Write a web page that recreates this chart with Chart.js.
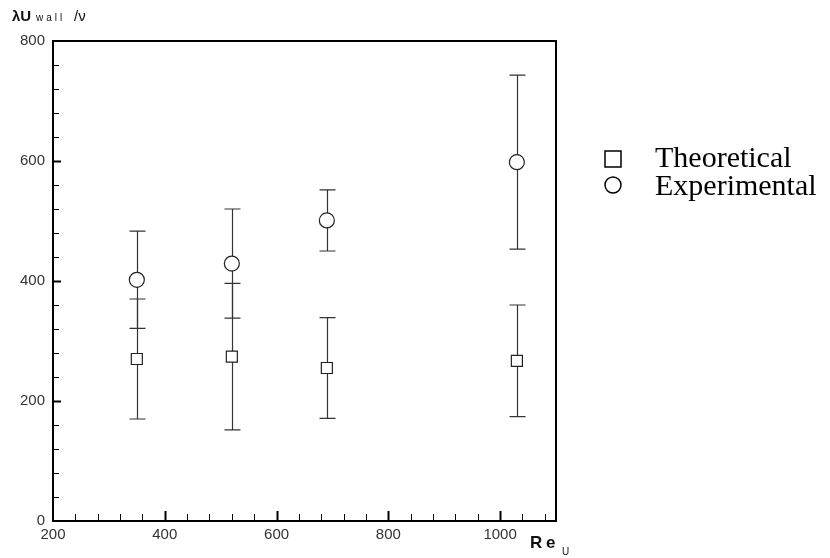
<!DOCTYPE html>
<html>
<head>
<meta charset="utf-8">
<script src="https://cdn.jsdelivr.net/npm/chart.js@4.4.1/dist/chart.umd.min.js"></script>
<style>
  html, body { margin: 0; padding: 0; background: #fff; }
  #wrap { width: 830px; height: 558px; }
</style>
</head>
<body>
<div id="wrap"><canvas id="chart" width="830" height="558"></canvas></div>
<script>
const reynolds = [350, 520, 690, 1030];

const theoretical = [270, 274, 255, 267];
const theoErr = [100, 122, 84, 93];

const experimental = [402, 429, 501, 598];
const expErr = [81, 91, 51, 145];

const seriesNames = ["Theoretical", "Experimental"];
const errors = [theoErr, expErr];

const INK = "#222";

// vertical error bar with caps, under the markers
const errorBars = {
  id: "errorBars",
  beforeDatasetsDraw(chart) {
    const { ctx, scales: { x, y } } = chart;
    ctx.save();
    ctx.strokeStyle = "#333";
    ctx.lineWidth = 1.2;
    chart.data.datasets.forEach((ds, i) => {
      ds.data.forEach((p, j) => {
        const px = Math.round(x.getPixelForValue(p.x)) + 0.5;
        const top = y.getPixelForValue(p.y + errors[i][j]);
        const bot = y.getPixelForValue(p.y - errors[i][j]);
        ctx.beginPath();
        ctx.moveTo(px, top);
        ctx.lineTo(px, bot);
        ctx.moveTo(px - 8, top);
        ctx.lineTo(px + 8, top);
        ctx.moveTo(px - 8, bot);
        ctx.lineTo(px + 8, bot);
        ctx.stroke();
      });
    });
    ctx.restore();
  }
};

// box frame, inward tick marks, axis titles and legend
const decorations = {
  id: "decorations",
  afterDraw(chart) {
    const { ctx, chartArea: a, scales: { x, y } } = chart;
    ctx.save();

    ctx.strokeStyle = "#000";
    ctx.lineWidth = 2;
    ctx.strokeRect(a.left, a.top, a.right - a.left, a.bottom - a.top);

    for (let v = 240; v <= 1080; v += 40) {
      const major = v % 200 === 0;
      const px = Math.round(x.getPixelForValue(v)) + 0.5;
      ctx.lineWidth = major ? 2 : 1;
      ctx.beginPath();
      ctx.moveTo(px, a.bottom);
      ctx.lineTo(px, a.bottom - (major ? 10 : 7));
      ctx.stroke();
    }
    for (let v = 40; v < 800; v += 40) {
      const major = v % 200 === 0;
      const py = Math.round(y.getPixelForValue(v)) + 0.5;
      ctx.lineWidth = major ? 2 : 1;
      ctx.beginPath();
      ctx.moveTo(a.left, py);
      ctx.lineTo(a.left + (major ? 8 : 6), py);
      ctx.stroke();
    }

    // y title: λU wall / ν
    ctx.fillStyle = "#111";
    ctx.textBaseline = "alphabetic";
    ctx.font = "bold 15px 'Liberation Sans', Arial, sans-serif";
    ctx.fillText("λU", 12, 21);
    ctx.font = "10px 'Liberation Sans', Arial, sans-serif";
    ctx.letterSpacing = "3px";
    ctx.fillText("wall", 36, 21);
    ctx.letterSpacing = "0px";
    ctx.font = "15px 'Liberation Sans', Arial, sans-serif";
    ctx.fillText("/ν", 74, 21);

    // x title: Re_U
    ctx.font = "bold 17px 'Liberation Sans', Arial, sans-serif";
    ctx.fillText("R", 530, 548);
    ctx.fillText("e", 546, 548);
    ctx.font = "10px 'Liberation Sans', Arial, sans-serif";
    ctx.fillText("U", 562, 555);

    // legend
    ctx.strokeStyle = "#000";
    ctx.lineWidth = 1.5;
    ctx.strokeRect(605, 151, 16, 16);
    ctx.beginPath();
    ctx.arc(613, 185, 8, 0, Math.PI * 2);
    ctx.stroke();
    ctx.fillStyle = "#000";
    ctx.font = "30px 'Liberation Serif', 'Times New Roman', serif";
    ctx.fillText(seriesNames[0], 655, 167);
    ctx.fillText(seriesNames[1], 655, 195);

    ctx.restore();
  }
};

const toPoints = (ys) => ys.map((v, i) => ({ x: reynolds[i], y: v }));

new Chart(document.getElementById("chart"), {
  type: "scatter",
  data: {
    datasets: [
      {
        label: seriesNames[0],
        data: toPoints(theoretical),
        pointStyle: "rect",
        pointRadius: 7.8,
        pointHoverRadius: 7.8,
        borderWidth: 1.2,
        borderColor: INK,
        backgroundColor: "#fff"
      },
      {
        label: seriesNames[1],
        data: toPoints(experimental),
        pointStyle: "circle",
        pointRadius: 7.5,
        pointHoverRadius: 7.5,
        borderWidth: 1.2,
        borderColor: INK,
        backgroundColor: "#fff"
      }
    ]
  },
  options: {
    responsive: false,
    animation: false,
    layout: { padding: { left: 0, top: 41, right: 274, bottom: 0 } },
    plugins: {
      legend: { display: false },
      tooltip: { enabled: false }
    },
    scales: {
      x: {
        type: "linear",
        min: 200,
        max: 1100,
        grid: { display: false, drawTicks: false },
        border: { display: false },
        ticks: {
          stepSize: 200,
          padding: 5,
          color: "#333",
          font: { family: "'Liberation Sans', Arial, sans-serif", size: 15 },
          callback: (v) => (v % 200 === 0 ? v : "")
        },
        afterFit: (s) => { s.height = 37; }
      },
      y: {
        min: 0,
        max: 800,
        grid: { display: false, drawTicks: false },
        border: { display: false },
        ticks: {
          stepSize: 200,
          padding: 8,
          color: "#333",
          font: { family: "'Liberation Sans', Arial, sans-serif", size: 15 }
        },
        afterFit: (s) => { s.width = 53; }
      }
    }
  },
  plugins: [errorBars, decorations]
});
</script>
</body>
</html>
